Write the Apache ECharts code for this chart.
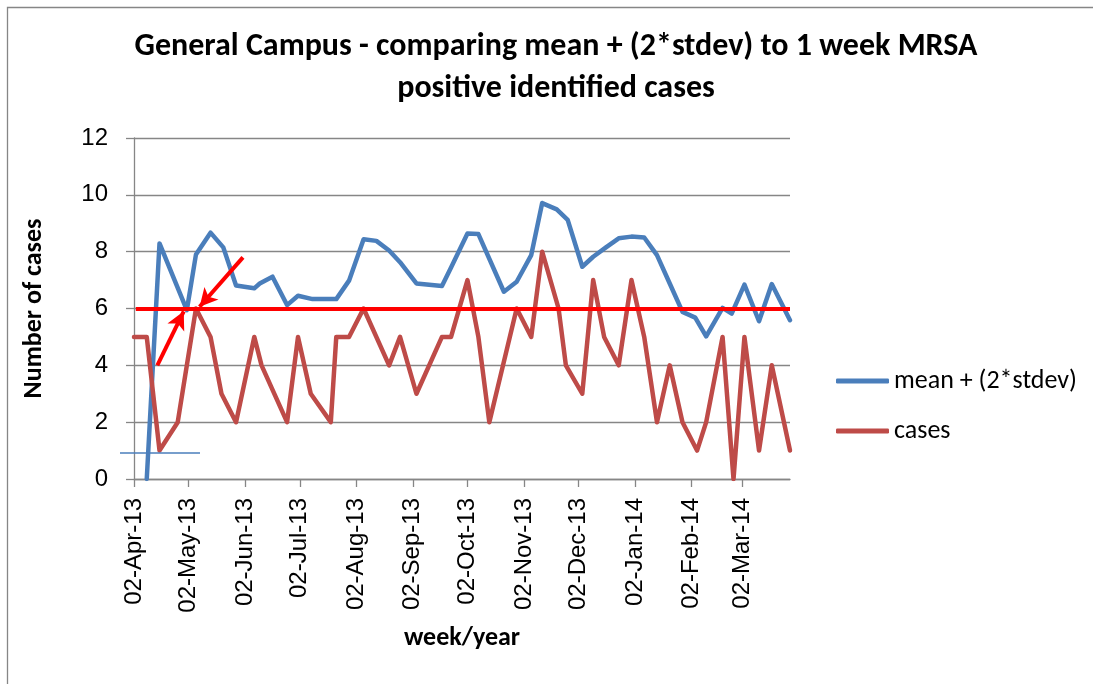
<!DOCTYPE html>
<html><head><meta charset="utf-8">
<script src="https://cdn.jsdelivr.net/npm/echarts@6/dist/echarts.min.js"></script>
<style>html,body{margin:0;padding:0;background:#fff}#c{width:1093px;height:684px}</style>
</head><body><div id="c"></div>
<script>
const caseDates = ['2013-04-02','2013-04-09','2013-04-16','2013-04-26','2013-05-06','2013-05-14','2013-05-20','2013-05-28',
  '2013-06-07','2013-06-11','2013-06-25','2013-07-01','2013-07-08','2013-07-19','2013-07-22','2013-07-29',
  '2013-08-06','2013-08-20','2013-08-26','2013-09-04','2013-09-18','2013-09-23','2013-10-02','2013-10-08',
  '2013-10-14','2013-10-29','2013-11-06','2013-11-12','2013-11-21','2013-11-25','2013-12-04','2013-12-10',
  '2013-12-16','2013-12-24','2013-12-31','2014-01-07','2014-01-14','2014-01-21','2014-01-28','2014-02-05',
  '2014-02-10','2014-02-19','2014-02-25','2014-03-03','2014-03-11','2014-03-18','2014-03-28'];
const caseValues = [5,5,1,2,6,5,3,2, 5,4,2,5,3,2,5,5, 6,4,5,3,5,5,7,5, 2,6,5,8,6,4,3,7, 5,4,7,5,2,4,2,1, 2,5,0,5,1,4,1];

const meanDates = ['2013-04-09','2013-04-16','2013-05-01','2013-05-06','2013-05-14','2013-05-21','2013-05-28','2013-06-07',
  '2013-06-10','2013-06-17','2013-06-25','2013-07-01','2013-07-09','2013-07-22','2013-07-29','2013-08-06',
  '2013-08-13','2013-08-20','2013-08-26','2013-09-04','2013-09-18','2013-09-23','2013-10-02','2013-10-08',
  '2013-10-22','2013-10-29','2013-11-06','2013-11-12','2013-11-20','2013-11-26','2013-12-04','2013-12-10',
  '2013-12-17','2013-12-24','2013-12-31','2014-01-07','2014-01-14','2014-01-21','2014-01-28','2014-02-04',
  '2014-02-10','2014-02-19','2014-02-24','2014-03-03','2014-03-11','2014-03-18','2014-03-28'];
const meanValues = [0,8.29,5.94,7.9,8.67,8.15,6.81,6.71, 6.88,7.12,6.12,6.45,6.33,6.33,6.98,8.44,
  8.38,8.04,7.63,6.88,6.79,7.44,8.64,8.62, 6.59,6.94,7.88,9.71,9.49,9.12,7.47,7.82,
  8.15,8.47,8.53,8.5,7.88,6.88,5.88,5.68, 5.02,6.02,5.82,6.84,5.55,6.86,5.59];

const tickDates = ['2013-04-02','2013-05-02','2013-06-02','2013-07-02','2013-08-02','2013-09-02',
  '2013-10-02','2013-11-02','2013-12-02','2014-01-02','2014-02-02','2014-03-02'];
const tickLabels = ['02-Apr-13','02-May-13','02-Jun-13','02-Jul-13','02-Aug-13','02-Sep-13',
  '02-Oct-13','02-Nov-13','02-Dec-13','02-Jan-14','02-Feb-14','02-Mar-14'];
const axisStart = '2013-04-02';
const axisEnd = '2014-03-28';
const threshold = 6;
// annotation arrows: [day offset from axisStart, value]
const arrowUpFrom = [12.8, 4.0], arrowUpTo = [27.3, 5.9];
const arrowDownFrom = [59.8, 7.8], arrowDownTo = [36.0, 6.06];

const DAY = 86400000;
function utc(s){ const p = s.split('-').map(Number); return Date.UTC(p[0], p[1]-1, p[2]); }
function dayOf(s){ return Math.round((utc(s) - utc(axisStart)) / DAY); }
const tickDays = tickDates.map(dayOf);

const FONT = "Carlito, 'Open Sans', sans-serif";
const AXFONT = "'Liberation Sans', Arial, sans-serif";
const GRAY = '#868686';
const BLUE = '#4A7EBB', RED = '#BE4B48';

const chart = echarts.init(document.getElementById('c'), null, {renderer: 'canvas'});
chart.setOption({
  animation: false,
  backgroundColor: '#fff',
  textStyle: {fontFamily: FONT, color: '#000'},
  title: {
    text: 'General Campus - comparing mean + (2*stdev) to 1 week MRSA\npositive identified cases',
    left: 551, textAlign: 'center', top: 21,
    textStyle: {fontFamily: FONT, fontSize: 32, fontWeight: 'bold', color: '#000', lineHeight: 42}
  },
  grid: {left: 134, right: 303, top: 138, bottom: 205, containLabel: false},
  legend: {
    orient: 'vertical', left: 831, top: 361,
    itemWidth: 53, itemHeight: 5, itemGap: 20, icon: 'roundRect',
    data: ['mean + (2*stdev)', 'cases'],
    textStyle: {fontFamily: FONT, fontSize: 26, color: '#000', lineHeight: 30}
  },
  xAxis: {
    type: 'value', min: 0, max: dayOf(axisEnd),
    name: 'week/year', nameLocation: 'middle', nameGap: 146,
    nameTextStyle: {fontFamily: FONT, fontSize: 26, fontWeight: 'bold', color: '#000'},
    axisLine: {show: true, onZero: false, lineStyle: {color: GRAY, width: 1.3}},
    axisTick: {show: true, customValues: tickDays, length: 8, inside: false, lineStyle: {color: GRAY, width: 1.3}},
    axisLabel: {
      customValues: tickDays, rotate: 90, margin: 19, hideOverlap: false,
      fontFamily: AXFONT, fontSize: 24, color: '#000',
      formatter: function (v) { const i = tickDays.indexOf(Math.round(v)); return i >= 0 ? tickLabels[i] : ''; }
    },
    splitLine: {show: false}
  },
  yAxis: {
    type: 'value', min: 0, max: 12, interval: 2,
    name: 'Number of cases', nameLocation: 'middle', nameGap: 87,
    nameTextStyle: {fontFamily: FONT, fontSize: 26, fontWeight: 'bold', color: '#000'},
    axisLine: {show: true, lineStyle: {color: GRAY, width: 1.3}},
    axisTick: {show: true, length: 8, inside: false, lineStyle: {color: GRAY, width: 1.3}},
    axisLabel: {margin: 26, fontFamily: AXFONT, fontSize: 24, color: '#000'},
    splitLine: {show: true, lineStyle: {color: GRAY, width: 1.3}}
  },
  series: [
    {
      name: 'mean + (2*stdev)', type: 'line', showSymbol: false, symbol: 'none',
      color: BLUE,
      lineStyle: {color: BLUE, width: 4.5, cap: 'round', join: 'round'},
      itemStyle: {color: BLUE},
      data: meanDates.map((d, i) => [dayOf(d), meanValues[i]]),
      z: 2
    },
    {
      name: 'cases', type: 'line', showSymbol: false, symbol: 'none',
      color: RED,
      lineStyle: {color: RED, width: 4.5, cap: 'round', join: 'round'},
      itemStyle: {color: RED},
      data: caseDates.map((d, i) => [dayOf(d), caseValues[i]]),
      z: 3
    },
    {
      name: 'annotations', type: 'line', data: [], z: 5, silent: true,
      markLine: {
        silent: true, animation: false,
        symbol: 'none',
        label: {show: false},
        lineStyle: {color: '#FF0000', width: 4, type: 'solid'},
        emphasis: {disabled: true},
        data: [
          [{coord: [1, threshold], symbol: 'none'}, {coord: [dayOf(axisEnd), threshold], symbol: 'none'}],
          [{coord: arrowUpFrom, symbol: 'none'}, {coord: arrowUpTo, symbol: 'arrow', symbolSize: [14, 18]}],
          [{coord: arrowDownFrom, symbol: 'none'}, {coord: arrowDownTo, symbol: 'arrow', symbolSize: [14, 18]}]
        ]
      }
    }
  ],
  graphic: [
    {type: 'rect', shape: {x: 7.5, y: 7.5, width: 1200, height: 800}, style: {fill: 'none', stroke: GRAY, lineWidth: 1.3}, silent: true, z: 0},
    {type: 'line', shape: {x1: 120, y1: 453, x2: 200, y2: 453}, style: {stroke: BLUE, lineWidth: 1.3}, silent: true, z: 10}
  ]
});
</script></body></html>
